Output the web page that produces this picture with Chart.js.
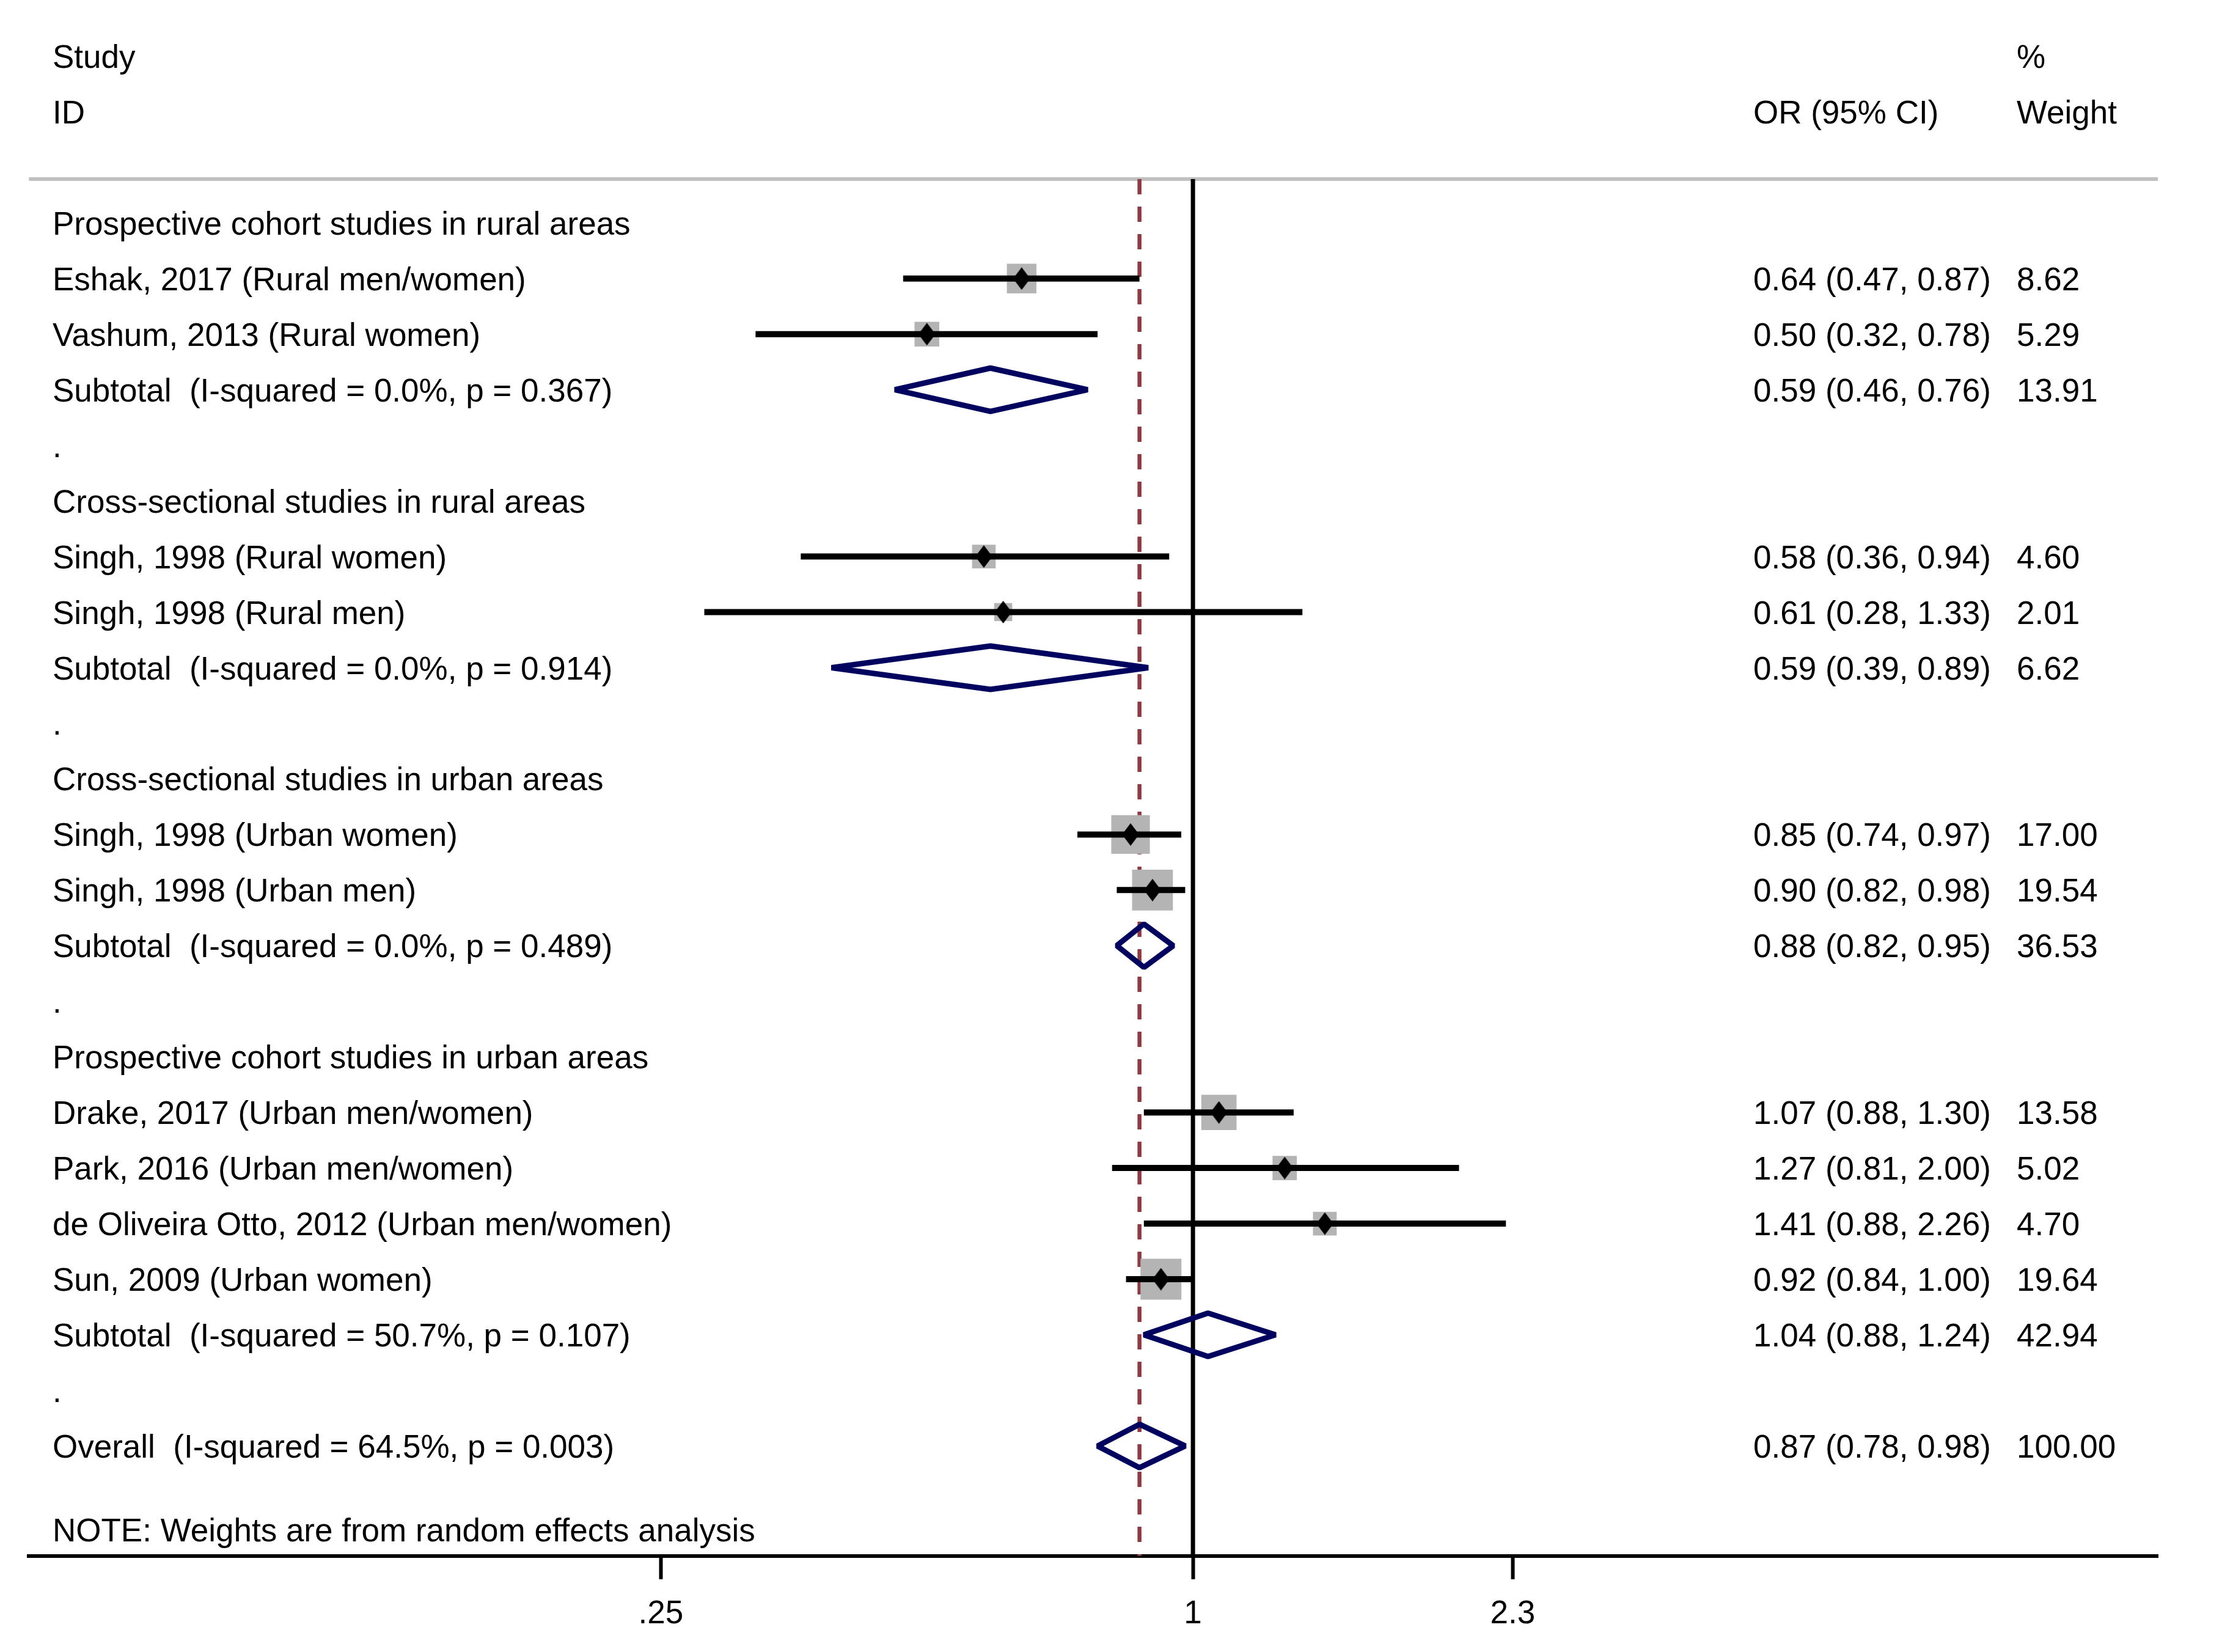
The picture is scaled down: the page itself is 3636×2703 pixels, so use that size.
<!DOCTYPE html>
<html>
<head>
<meta charset="utf-8">
<script src="https://cdn.jsdelivr.net/npm/chart.js@4.4.1/dist/chart.umd.min.js"></script>
<style>
  html, body { margin: 0; padding: 0; background: #ffffff; }
  #wrap { width: 3636px; height: 2703px; position: relative; }
</style>
</head>
<body>
<div id="wrap"><canvas id="forestChart"></canvas></div>
<script>
// Row labels, top to bottom (row index = position in this list)
const rowLabels = [
    'Prospective cohort studies in rural areas',
    'Eshak, 2017 (Rural men/women)',
    'Vashum, 2013 (Rural women)',
    'Subtotal  (I-squared = 0.0%, p = 0.367)',
    '.',
    'Cross-sectional studies in rural areas',
    'Singh, 1998 (Rural women)',
    'Singh, 1998 (Rural men)',
    'Subtotal  (I-squared = 0.0%, p = 0.914)',
    '.',
    'Cross-sectional studies in urban areas',
    'Singh, 1998 (Urban women)',
    'Singh, 1998 (Urban men)',
    'Subtotal  (I-squared = 0.0%, p = 0.489)',
    '.',
    'Prospective cohort studies in urban areas',
    'Drake, 2017 (Urban men/women)',
    'Park, 2016 (Urban men/women)',
    'de Oliveira Otto, 2012 (Urban men/women)',
    'Sun, 2009 (Urban women)',
    'Subtotal  (I-squared = 50.7%, p = 0.107)',
    '.',
    'Overall  (I-squared = 64.5%, p = 0.003)'
];
const noteText = 'NOTE: Weights are from random effects analysis';

// Individual studies
const studyRows   = [1, 2, 6, 7, 11, 12, 16, 17, 18, 19];
const studyOR     = [0.64, 0.50, 0.58, 0.61, 0.85, 0.90, 1.07, 1.27, 1.41, 0.92];
const studyLow    = [0.47, 0.32, 0.36, 0.28, 0.74, 0.82, 0.88, 0.81, 0.88, 0.84];
const studyHigh   = [0.87, 0.78, 0.94, 1.33, 0.97, 0.98, 1.30, 2.00, 2.26, 1.00];
const studyWeight = [8.62, 5.29, 4.60, 2.01, 17.00, 19.54, 13.58, 5.02, 4.70, 19.64];

// Subtotals and overall
const pooledRows   = [3, 8, 13, 20, 22];
const pooledOR     = [0.59, 0.59, 0.88, 1.04, 0.87];
const pooledLow    = [0.46, 0.39, 0.82, 0.88, 0.78];
const pooledHigh   = [0.76, 0.89, 0.95, 1.24, 0.98];
const pooledWeight = [13.91, 6.62, 36.53, 42.94, 100.00];

// Axis
const xTicks = [0.25, 1, 2.3];
const xTickLabels = ['.25', '1', '2.3'];
const nullValue = 1;
const overallOR = pooledOR[pooledOR.length - 1];

// layout in row units
const yTop = -0.79, yBottom = 23.98, noteRow = 23.51;
const diamondHalf = 0.39;

const FONT = '53px "Liberation Sans", Arial, sans-serif';
const COL_STUDY = 86, COL_OR = 2869, COL_WEIGHT = 3300;

function fmt(v) { return v.toFixed(2); }

// black diamond marker (taller than wide)
function makeDiamond(w, h) {
    const c = document.createElement('canvas');
    c.width = w; c.height = h;
    const g = c.getContext('2d');
    g.fillStyle = '#000000';
    g.beginPath();
    g.moveTo(w / 2, 0);
    g.lineTo(w, h / 2);
    g.lineTo(w / 2, h);
    g.lineTo(0, h / 2);
    g.closePath();
    g.fill();
    return c;
}
const diamondMarker = makeDiamond(28, 37);

// build datasets from the arrays
const pointData = studyOR.map((v, i) => ({ x: v, y: studyRows[i] }));

const ciData = [];
studyOR.forEach((v, i) => {
    ciData.push({ x: studyLow[i], y: studyRows[i] });
    ciData.push({ x: studyHigh[i], y: studyRows[i] });
    ciData.push({ x: studyHigh[i], y: null });
});

const pooledData = [];
pooledOR.forEach((v, i) => {
    const r = pooledRows[i];
    pooledData.push({ x: pooledLow[i], y: r });
    pooledData.push({ x: v, y: r - diamondHalf });
    pooledData.push({ x: pooledHigh[i], y: r });
    pooledData.push({ x: v, y: r + diamondHalf });
    pooledData.push({ x: pooledLow[i], y: r });
    pooledData.push({ x: v, y: r - diamondHalf });
    pooledData.push({ x: v, y: null });
});

const textPlugin = {
    id: 'forestText',
    beforeDatasetsDraw(chart) {
        const ctx = chart.ctx;
        const area = chart.chartArea;
        // grey rule under the header
        ctx.save();
        ctx.strokeStyle = '#c0c0c0';
        ctx.lineWidth = 6;
        ctx.beginPath();
        ctx.moveTo(area.left, area.top);
        ctx.lineTo(area.right, area.top);
        ctx.stroke();
        ctx.restore();
    },
    afterDraw(chart) {
        const ctx = chart.ctx;
        const y = chart.scales.y;
        const base = (r) => y.getPixelForValue(r) + 19;
        ctx.save();
        ctx.font = FONT;
        ctx.fillStyle = '#000000';
        ctx.textAlign = 'left';
        ctx.textBaseline = 'alphabetic';

        // header
        ctx.fillText('Study', COL_STUDY, base(-3));
        ctx.fillText('ID', COL_STUDY, base(-2));
        ctx.fillText('OR (95% CI)', COL_OR, base(-2));
        ctx.fillText('%', COL_WEIGHT, base(-3));
        ctx.fillText('Weight', COL_WEIGHT, base(-2));

        rowLabels.forEach((t, r) => ctx.fillText(t, COL_STUDY, base(r)));

        studyOR.forEach((v, i) => {
            ctx.fillText(fmt(v) + ' (' + fmt(studyLow[i]) + ', ' + fmt(studyHigh[i]) + ')', COL_OR, base(studyRows[i]));
            ctx.fillText(fmt(studyWeight[i]), COL_WEIGHT, base(studyRows[i]));
        });
        pooledOR.forEach((v, i) => {
            ctx.fillText(fmt(v) + ' (' + fmt(pooledLow[i]) + ', ' + fmt(pooledHigh[i]) + ')', COL_OR, base(pooledRows[i]));
            ctx.fillText(fmt(pooledWeight[i]), COL_WEIGHT, base(pooledRows[i]));
        });

        ctx.fillText(noteText, COL_STUDY, base(noteRow));
        ctx.restore();
    }
};

const ctx = document.getElementById('forestChart').getContext('2d');
new Chart(ctx, {
    type: 'scatter',
    data: {
        datasets: [
            {   // point estimate markers (drawn on top)
                data: pointData,
                pointStyle: diamondMarker,
                pointRadius: 5,
                pointHoverRadius: 5
            },
            {   // confidence intervals
                data: ciData,
                showLine: true,
                borderColor: '#000000',
                borderWidth: 10,
                borderCapStyle: 'butt',
                pointRadius: 0,
                pointHoverRadius: 0
            },
            {   // weight boxes
                data: pointData,
                pointStyle: 'rect',
                backgroundColor: '#b4b4b4',
                borderWidth: 0,
                pointBorderWidth: 0,
                pointRadius: (c) => (12.4 * Math.sqrt(studyWeight[c.dataIndex]) + 12) / Math.SQRT2,
                pointHoverRadius: (c) => (12.4 * Math.sqrt(studyWeight[c.dataIndex]) + 12) / Math.SQRT2
            },
            {   // pooled diamonds
                data: pooledData,
                showLine: true,
                borderColor: '#02035f',
                borderWidth: 9,
                borderJoinStyle: 'bevel',
                fill: false,
                pointRadius: 0,
                pointHoverRadius: 0
            },
            {   // line of no effect
                data: [{ x: nullValue, y: yTop }, { x: nullValue, y: yBottom }],
                showLine: true,
                borderColor: '#000000',
                borderWidth: 7,
                pointRadius: 0,
                pointHoverRadius: 0
            },
            {   // overall estimate
                data: [{ x: overallOR, y: yTop }, { x: overallOR, y: yBottom }],
                showLine: true,
                borderColor: '#8e3a43',
                borderWidth: 6.5,
                borderDash: [25, 20],
                pointRadius: 0,
                pointHoverRadius: 0
            }
        ]
    },
    options: {
        responsive: true,
        maintainAspectRatio: false,
        devicePixelRatio: 1,
        animation: false,
        events: [],
        layout: { padding: { left: 42, right: 105, top: 293, bottom: 0 } },
        plugins: {
            legend: { display: false },
            tooltip: { enabled: false }
        },
        scales: {
            x: {
                type: 'logarithmic',
                position: 'bottom',
                min: 0.0482,
                max: 12.35,
                bounds: 'data',
                afterBuildTicks: (scale) => {
                    scale.ticks = xTicks.map(v => ({ value: v }));
                },
                afterFit: (scale) => { scale.height = 157; },
                grid: {
                    drawOnChartArea: false,
                    drawTicks: true,
                    tickLength: 38,
                    tickWidth: 6,
                    tickColor: '#000000'
                },
                border: { display: true, color: '#000000', width: 6 },
                ticks: {
                    autoSkip: false,
                    maxRotation: 0,
                    padding: 26,
                    color: '#000000',
                    font: { family: '"Liberation Sans", Arial, sans-serif', size: 53, lineHeight: 1.2 },
                    callback: (value, index) => xTickLabels[index]
                }
            },
            y: {
                type: 'linear',
                display: false,
                reverse: true,
                min: yTop,
                max: yBottom,
                bounds: 'data'
            }
        }
    },
    plugins: [textPlugin]
});
</script>
</body>
</html>
